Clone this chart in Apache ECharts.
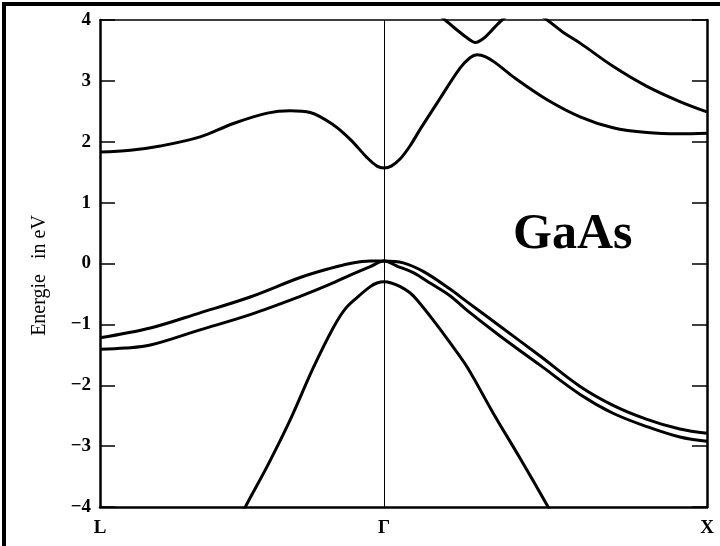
<!DOCTYPE html>
<html>

<head>
    <meta charset="utf-8">
    <script src="https://cdn.jsdelivr.net/npm/echarts@6/dist/echarts.min.js"></script>
    <style>
        * {
            padding: 0;
            margin: 0
        }

        body,
        html {
            height: 546px;
            width: 720px;
            background: #fff
        }

        #container {
            height: 546px;
            width: 720px
        }

        #frame {
            position: absolute;
            left: 2px;
            top: 2px;
            width: 718px;
            height: 544px;
            border-top: 4px solid #000;
            border-left: 4px solid #000;
            pointer-events: none
        }
    </style>
</head>

<body>
    <div id="container"></div>
    <div id="frame"></div>
</body>
<script>
    // k: L = -0.88, Gamma = 0, X = 1 ; energies in eV
    const kPoints = [-0.88, 0, 1];
    const kNames = ['L', 'Γ', 'X'];

    const cb1K = [-0.88, -0.786, -0.693, -0.570, -0.467, -0.362, -0.291, -0.229, -0.158, -0.105, -0.053, -0.022, 0, 0.022, 0.050, 0.080, 0.111, 0.173, 0.235, 0.266, 0.288, 0.313, 0.344, 0.399, 0.505, 0.607, 0.709, 0.814, 0.916, 1.0];
    const cb1E = [1.83, 1.86, 1.93, 2.08, 2.30, 2.47, 2.51, 2.48, 2.28, 2.04, 1.74, 1.60, 1.57, 1.60, 1.72, 1.93, 2.20, 2.71, 3.21, 3.38, 3.43, 3.40, 3.30, 3.07, 2.69, 2.41, 2.23, 2.15, 2.13, 2.14];

    const cb2K = [0.127, 0.189, 0.220, 0.251, 0.272, 0.282, 0.291, 0.313, 0.337, 0.365, 0.396, 0.433, 0.471, 0.505, 0.554, 0.607, 0.709, 0.814, 0.916, 1.0];
    const cb2E = [4.28, 4.00, 3.86, 3.73, 3.65, 3.63, 3.64, 3.72, 3.85, 4.00, 4.12, 4.17, 4.12, 4.00, 3.80, 3.62, 3.24, 2.91, 2.66, 2.49];

    const vb1K = [-0.88, -0.724, -0.570, -0.415, -0.260, -0.167, -0.105, -0.043, 0, 0.059, 0.121, 0.204, 0.257, 0.359, 0.483, 0.607, 0.709, 0.814, 0.916, 1.0];
    const vb1E = [-1.22, -1.06, -0.81, -0.55, -0.23, -0.08, 0.00, 0.04, 0.04, 0.01, -0.13, -0.42, -0.63, -1.03, -1.52, -2.02, -2.33, -2.56, -2.72, -2.79];

    const vb2K = [-0.88, -0.802, -0.724, -0.570, -0.415, -0.260, -0.167, -0.105, -0.043, 0, 0.043, 0.090, 0.142, 0.204, 0.257, 0.359, 0.483, 0.607, 0.709, 0.814, 0.916, 1.0];
    const vb2E = [-1.41, -1.39, -1.34, -1.09, -0.84, -0.54, -0.34, -0.19, -0.05, 0.04, -0.05, -0.15, -0.32, -0.53, -0.77, -1.19, -1.67, -2.15, -2.46, -2.68, -2.85, -2.92];

    const soK = [-0.477, -0.430, -0.359, -0.291, -0.220, -0.158, -0.121, -0.084, -0.043, -0.022, 0, 0.022, 0.050, 0.080, 0.102, 0.152, 0.204, 0.257, 0.337, 0.421, 0.508, 0.545];
    const soE = [-4.5, -4.0, -3.3, -2.57, -1.72, -1.06, -0.75, -0.56, -0.38, -0.32, -0.30, -0.32, -0.38, -0.48, -0.60, -0.93, -1.30, -1.70, -2.45, -3.2, -4.0, -4.35];

    const yTicks = [-4, -3, -2, -1, 0, 1, 2, 3, 4];

    const serif = '"Liberation Serif", "DejaVu Serif", serif';

    function zip(ks, es) {
        return ks.map((k, i) => [k, es[i]]);
    }

    function band(name, ks, es) {
        return {
            name: name,
            type: 'line',
            data: zip(ks, es),
            showSymbol: false,
            smooth: 0.35,
            clip: true,
            silent: true,
            lineStyle: { color: '#000', width: 3 }
        };
    }

    const container = document.getElementById('container');
    let myChart = echarts.init(container);

    const series = [
        band('cb1', cb1K, cb1E),
        band('cb2', cb2K, cb2E),
        band('vb1', vb1K, vb1E),
        band('vb2', vb2K, vb2E),
        band('so', soK, soE)
    ];

    // vertical line at Gamma
    series[0].markLine = {
        silent: true,
        symbol: ['none', 'none'],
        label: { show: false },
        lineStyle: { color: '#000', width: 1, type: 'solid' },
        data: [{ xAxis: kPoints[1] }]
    };

    const option = {
        animation: false,
        backgroundColor: '#fff',
        grid: { left: 100, right: 13, top: 20, bottom: 39 },
        xAxis: [{
            type: 'value',
            min: kPoints[0],
            max: kPoints[2],
            axisLine: { onZero: false, lineStyle: { color: '#000', width: 2.5 } },
            axisTick: { show: false },
            splitLine: { show: false },
            axisLabel: {
                customValues: kPoints,
                formatter: v => kNames[kPoints.indexOf(v)] || '',
                color: '#000',
                fontFamily: serif,
                fontWeight: 'bold',
                fontSize: 19,
                margin: 12
            }
        }, {
            type: 'value',
            position: 'top',
            min: kPoints[0],
            max: kPoints[2],
            axisLine: { show: true, onZero: false, lineStyle: { color: '#000', width: 1.5 } },
            axisTick: { show: false },
            axisLabel: { show: false },
            splitLine: { show: false }
        }],
        yAxis: [{
            type: 'value',
            min: yTicks[0],
            max: yTicks[yTicks.length - 1],
            interval: 1,
            name: 'Energie   in eV',
            nameLocation: 'middle',
            nameGap: 50,
            nameTextStyle: {
                color: '#000',
                fontFamily: serif,
                fontSize: 20,
                padding: [0, 24, 0, 0]
            },
            axisLine: { show: true, onZero: false, lineStyle: { color: '#000', width: 2.5 } },
            axisTick: { show: true, inside: true, length: 15, lineStyle: { color: '#000', width: 1.5 } },
            splitLine: { show: false },
            axisLabel: {
                formatter: v => (v < 0 ? '−' + (-v) : String(v)),
                color: '#000',
                fontFamily: serif,
                fontWeight: 'bold',
                fontSize: 19,
                margin: 9
            }
        }, {
            type: 'value',
            position: 'right',
            min: yTicks[0],
            max: yTicks[yTicks.length - 1],
            interval: 1,
            axisLine: { show: true, onZero: false, lineStyle: { color: '#000', width: 2.5 } },
            axisTick: { show: true, inside: true, length: 15, lineStyle: { color: '#000', width: 1.5 } },
            axisLabel: { show: false },
            splitLine: { show: false }
        }],
        graphic: [{
            type: 'text',
            left: 513,
            top: 210,
            silent: true,
            style: {
                text: 'GaAs',
                fill: '#000',
                font: 'bold 50px ' + serif
            }
        }],
        series: series
    };

    myChart.setOption(option);
</script>

</html>
